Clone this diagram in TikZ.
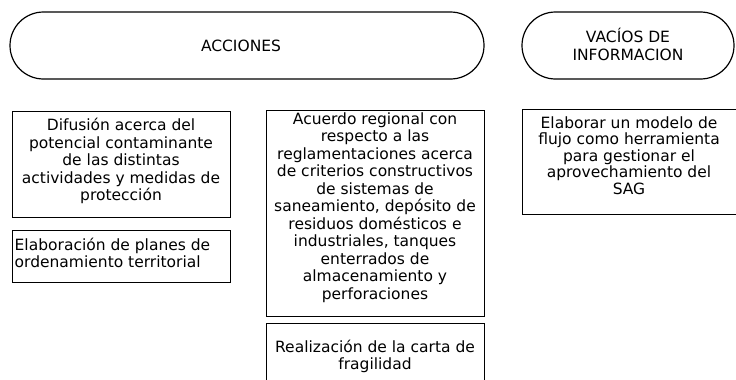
\documentclass[tikz,border=0pt]{standalone}
\usepackage{fontspec}
\setmainfont{DejaVu Sans}
\newcommand{\fs}{\rule{0pt}{14pt}}
\begin{document}
\begin{tikzpicture}[x=1pt,y=-1pt,
  frame/.style={draw, line width=1.2pt, inner sep=0pt, anchor=north west},
  pill/.style={draw, line width=1.2pt, inner sep=0pt, rounded corners=33.5pt, minimum height=67pt},
  txt/.style={inner sep=0pt, align=center, anchor=north, font=\fontsize{15.5}{17.5}\selectfont},
  txtl/.style={inner sep=0pt, align=left, anchor=north west, font=\fontsize{15.5}{17.5}\selectfont}]
\clip (0,0) rectangle (736,380);
\fill[white] (0,0) rectangle (736,380);
% header shapes
\node[pill, minimum width=474pt] (acc) at (247,45.5) {};
\node[inner sep=0pt, anchor=base, font=\fontsize{15.5}{17.5}\selectfont] (acct) at (241,51) {ACCIONES};
\node[pill, minimum width=212pt] (vac) at (628,45.5) {};
\node[txt, font=\fontsize{15.5}{18}\selectfont] (vact) at (628,27.5) {\rule{0pt}{15pt}VACÍOS DE\\INFORMACION};
% boxes
\node[frame, minimum width=218pt, minimum height=106pt] (b1) at (12,111) {};
\node[txt] (b1t) at (121,116.5) {\fs Difusión acerca del\\potencial contaminante\\de las distintas\\actividades y medidas de\\protección};
\node[frame, minimum width=218pt, minimum height=52pt] (b2) at (12,230) {};
\node[txtl] (b2t) at (14.5,236) {\fs Elaboración de planes de\\ordenamiento territorial};
\node[frame, minimum width=218pt, minimum height=206pt] (b3) at (266,110) {};
\node[txt] (b3t) at (375,110) {\fs Acuerdo regional con\\respecto a las\\reglamentaciones acerca\\de criterios constructivos\\de sistemas de\\saneamiento, depósito de\\residuos domésticos e\\industriales, tanques\\enterrados de\\almacenamiento y\\perforaciones};
\node[frame, minimum width=218pt, minimum height=60pt] (b5) at (266,323) {};
\node[txt, font=\fontsize{15.5}{16.5}\selectfont] (b5t) at (375,338.5) {\fs Realización de la carta de\\fragilidad};
\node[frame, minimum width=218pt, minimum height=105pt] (b4) at (522,109) {};
\node[txt, font=\fontsize{15.5}{16.5}\selectfont] (b4t) at (629,114) {\fs Elaborar un modelo de\\flujo como herramienta\\para gestionar el\\aprovechamiento del\\SAG};
\end{tikzpicture}
\end{document}
